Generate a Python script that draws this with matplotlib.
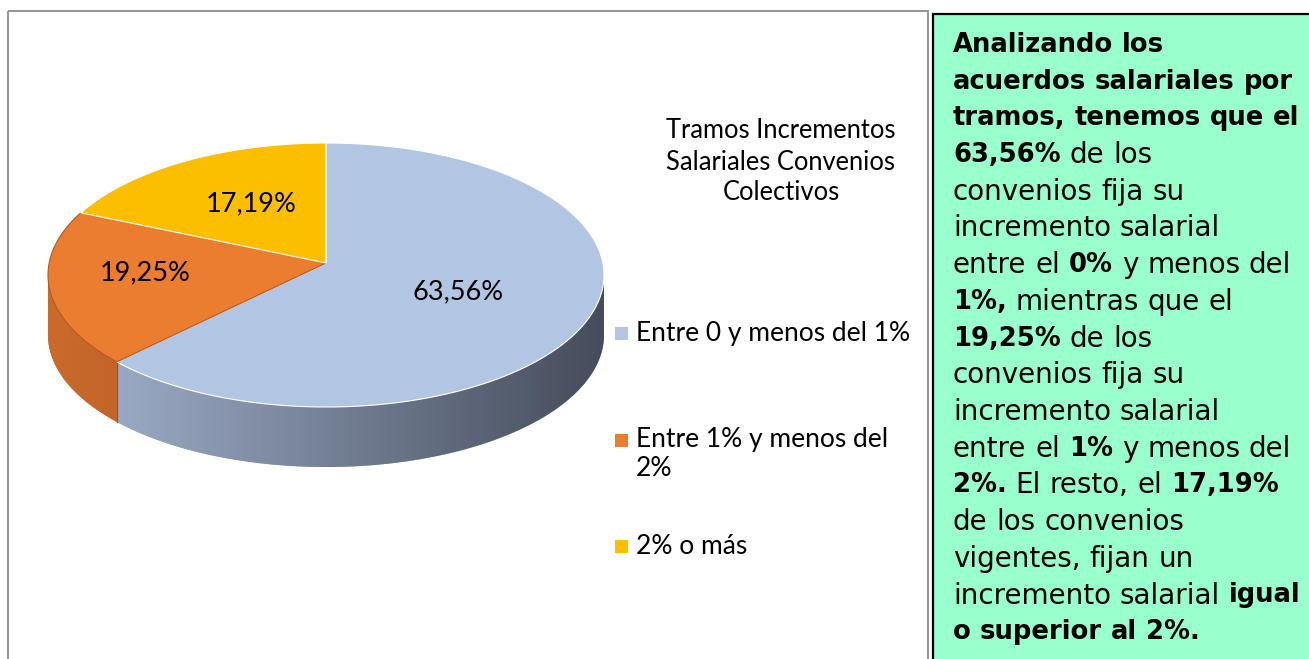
import numpy as np
import matplotlib
matplotlib.use("Agg")
import matplotlib.pyplot as plt
from matplotlib.patches import Polygon, Rectangle
from matplotlib.colors import to_rgb

# ---------------- data ----------------
categories = ["Entre 0 y menos del 1%", "Entre 1% y menos del\n2%", "2% o más"]
values = [63.56, 19.25, 17.19]
value_labels = ["63,56%", "19,25%", "17,19%"]
chart_title = "Tramos Incrementos\nSalariales Convenios\nColectivos"

top_colors = ["#B2C5E3", "#EB7D31", "#FBBF00"]
edge_colors = ["#FFFFFF", "#B25A1E", "#FFFFFF"]
side_left = ["#9AA9C4", "#CB6B2A", "#C99700"]
side_right = ["#454C5B", "#C2652A", "#C99700"]
label_radius = [0.52, 0.655, 0.52]

box_lines = [
    [("Analizando los", True)],
    [("acuerdos salariales por", True)],
    [("tramos, tenemos que el", True)],
    [("63,56%", True), ("de los", False)],
    [("convenios fija su", False)],
    [("incremento salarial", False)],
    [("entre el", False), ("0%", True), ("y menos del", False)],
    [("1%,", True), ("mientras que el", False)],
    [("19,25%", True), ("de los", False)],
    [("convenios fija su", False)],
    [("incremento salarial", False)],
    [("entre el", False), ("1%", True), ("y menos del", False)],
    [("2%.", True), ("El resto, el", False), ("17,19%", True)],
    [("de los convenios", False)],
    [("vigentes, fijan un", False)],
    [("incremento salarial", False), ("igual", True)],
    [("o superior al 2%.", True)],
]

# ---------------- figure ----------------
plt.rcParams['font.family'] = ['Lato', 'DejaVu Sans']
W, H = 1309, 659
fig = plt.figure(figsize=(W / 100, H / 100), dpi=100)
ax = fig.add_axes([0, 0, 1, 1])
ax.set_xlim(0, W)
ax.set_ylim(H, 0)
ax.axis('off')

# chart border
ax.add_patch(Rectangle((7.5, 10.5), 920.5, 700, fill=False, edgecolor="#8C8C8C",
                       linewidth=1.3, zorder=0))

# ---------------- 3D pie ----------------
cx, cy, a, b, depth = 326, 275, 278, 132, 60
apex = (cx, cy - 12)


def arc(t0, t1, dy=0.0, n=200):
    th = np.radians(np.linspace(t0, t1, n))
    return np.column_stack([cx + a * np.sin(th), cy - b * np.cos(th) + dy])


total = sum(values)
angles = np.concatenate([[0], np.cumsum(values) / total * 360])

# side faces
for i in range(len(values)):
    s, e = max(angles[i], 90), min(angles[i + 1], 270)
    if e <= s:
        continue
    top = arc(s, e)
    bot = arc(e, s, dy=depth)
    poly = np.vstack([top, bot])
    patch = Polygon(poly, closed=True, facecolor=side_left[i], edgecolor='none', zorder=1)
    ax.add_patch(patch)
    xl, xr = poly[:, 0].min(), poly[:, 0].max()
    cl, cr = np.array(to_rgb(side_left[i])), np.array(to_rgb(side_right[i]))
    g = np.linspace(0, 1, 256)[:, None]
    img = (cl[None, :] * (1 - g) + cr[None, :] * g)[None, :, :]
    im = ax.imshow(img, extent=[xl, xr, poly[:, 1].max(), poly[:, 1].min()],
                   aspect='auto', interpolation='bilinear', zorder=1.5)
    im.set_clip_path(patch)
    for t in (s, e):
        if t not in (90, 270):
            p0 = arc(t, t, n=1)[0]
            ax.plot([p0[0], p0[0]], [p0[1], p0[1] + depth], color="#9A4E1A", lw=0.8, zorder=2)

# top faces
for i in range(len(values)):
    pts = arc(angles[i], angles[i + 1])
    poly = np.vstack([[apex], pts])
    ax.add_patch(Polygon(poly, closed=True, facecolor=top_colors[i], edgecolor=edge_colors[i],
                         linewidth=0.8, zorder=3))

# data labels
for i in range(len(values)):
    mid = np.radians((angles[i] + angles[i + 1]) / 2)
    r = label_radius[i]
    x = apex[0] + r * a * np.sin(mid)
    y = apex[1] - r * b * np.cos(mid)
    ax.text(x, y, value_labels[i], ha='center', va='center', fontsize=19.5, color='black', zorder=4)

# title
ax.text(781, 162, chart_title, ha='center', va='center', fontsize=18.4, linespacing=1.3,
        color='black')

# legend
leg_y = [333, 440, 546]
for i, cat in enumerate(categories):
    lines = cat.split("\n")
    ax.add_patch(Rectangle((615, leg_y[i] - 6.5), 13, 13, facecolor=top_colors[i],
                           edgecolor='none', zorder=3))
    for k, ln in enumerate(lines):
        ax.text(636, leg_y[i] + k * 29, ln, ha='left', va='center', fontsize=19, color='black')

# ---------------- text box ----------------
ax.add_patch(Rectangle((933, 14), 420, 700, facecolor="#99FFCC", edgecolor='black',
                       linewidth=1.6, zorder=0.5))

renderer = fig.canvas.get_renderer()
fs_reg, fs_bold = 20.0, 18.6
box_font = ['DejaVu Sans']


def make_text(x, y, s, bold):
    return ax.text(x, y, s, ha='left', va='center', fontsize=fs_bold if bold else fs_reg,
                   family=box_font, fontweight='bold' if bold else 'normal',
                   color='black', zorder=5)


def width_of(s, bold):
    t = make_text(0, 0, s, bold)
    w = t.get_window_extent(renderer).width
    t.remove()
    return w


space_w = width_of("a a", False) - width_of("aa", False)

x0, y0, dy = 953, 45, 36.7
for li, segs in enumerate(box_lines):
    x = x0
    y = y0 + li * dy
    first = True
    for text, bold in segs:
        for word in text.split(" "):
            if not first:
                x += space_w
            t = make_text(x, y, word, bold)
            x += t.get_window_extent(renderer).width
            first = False

fig.savefig("out.png", dpi=100)
